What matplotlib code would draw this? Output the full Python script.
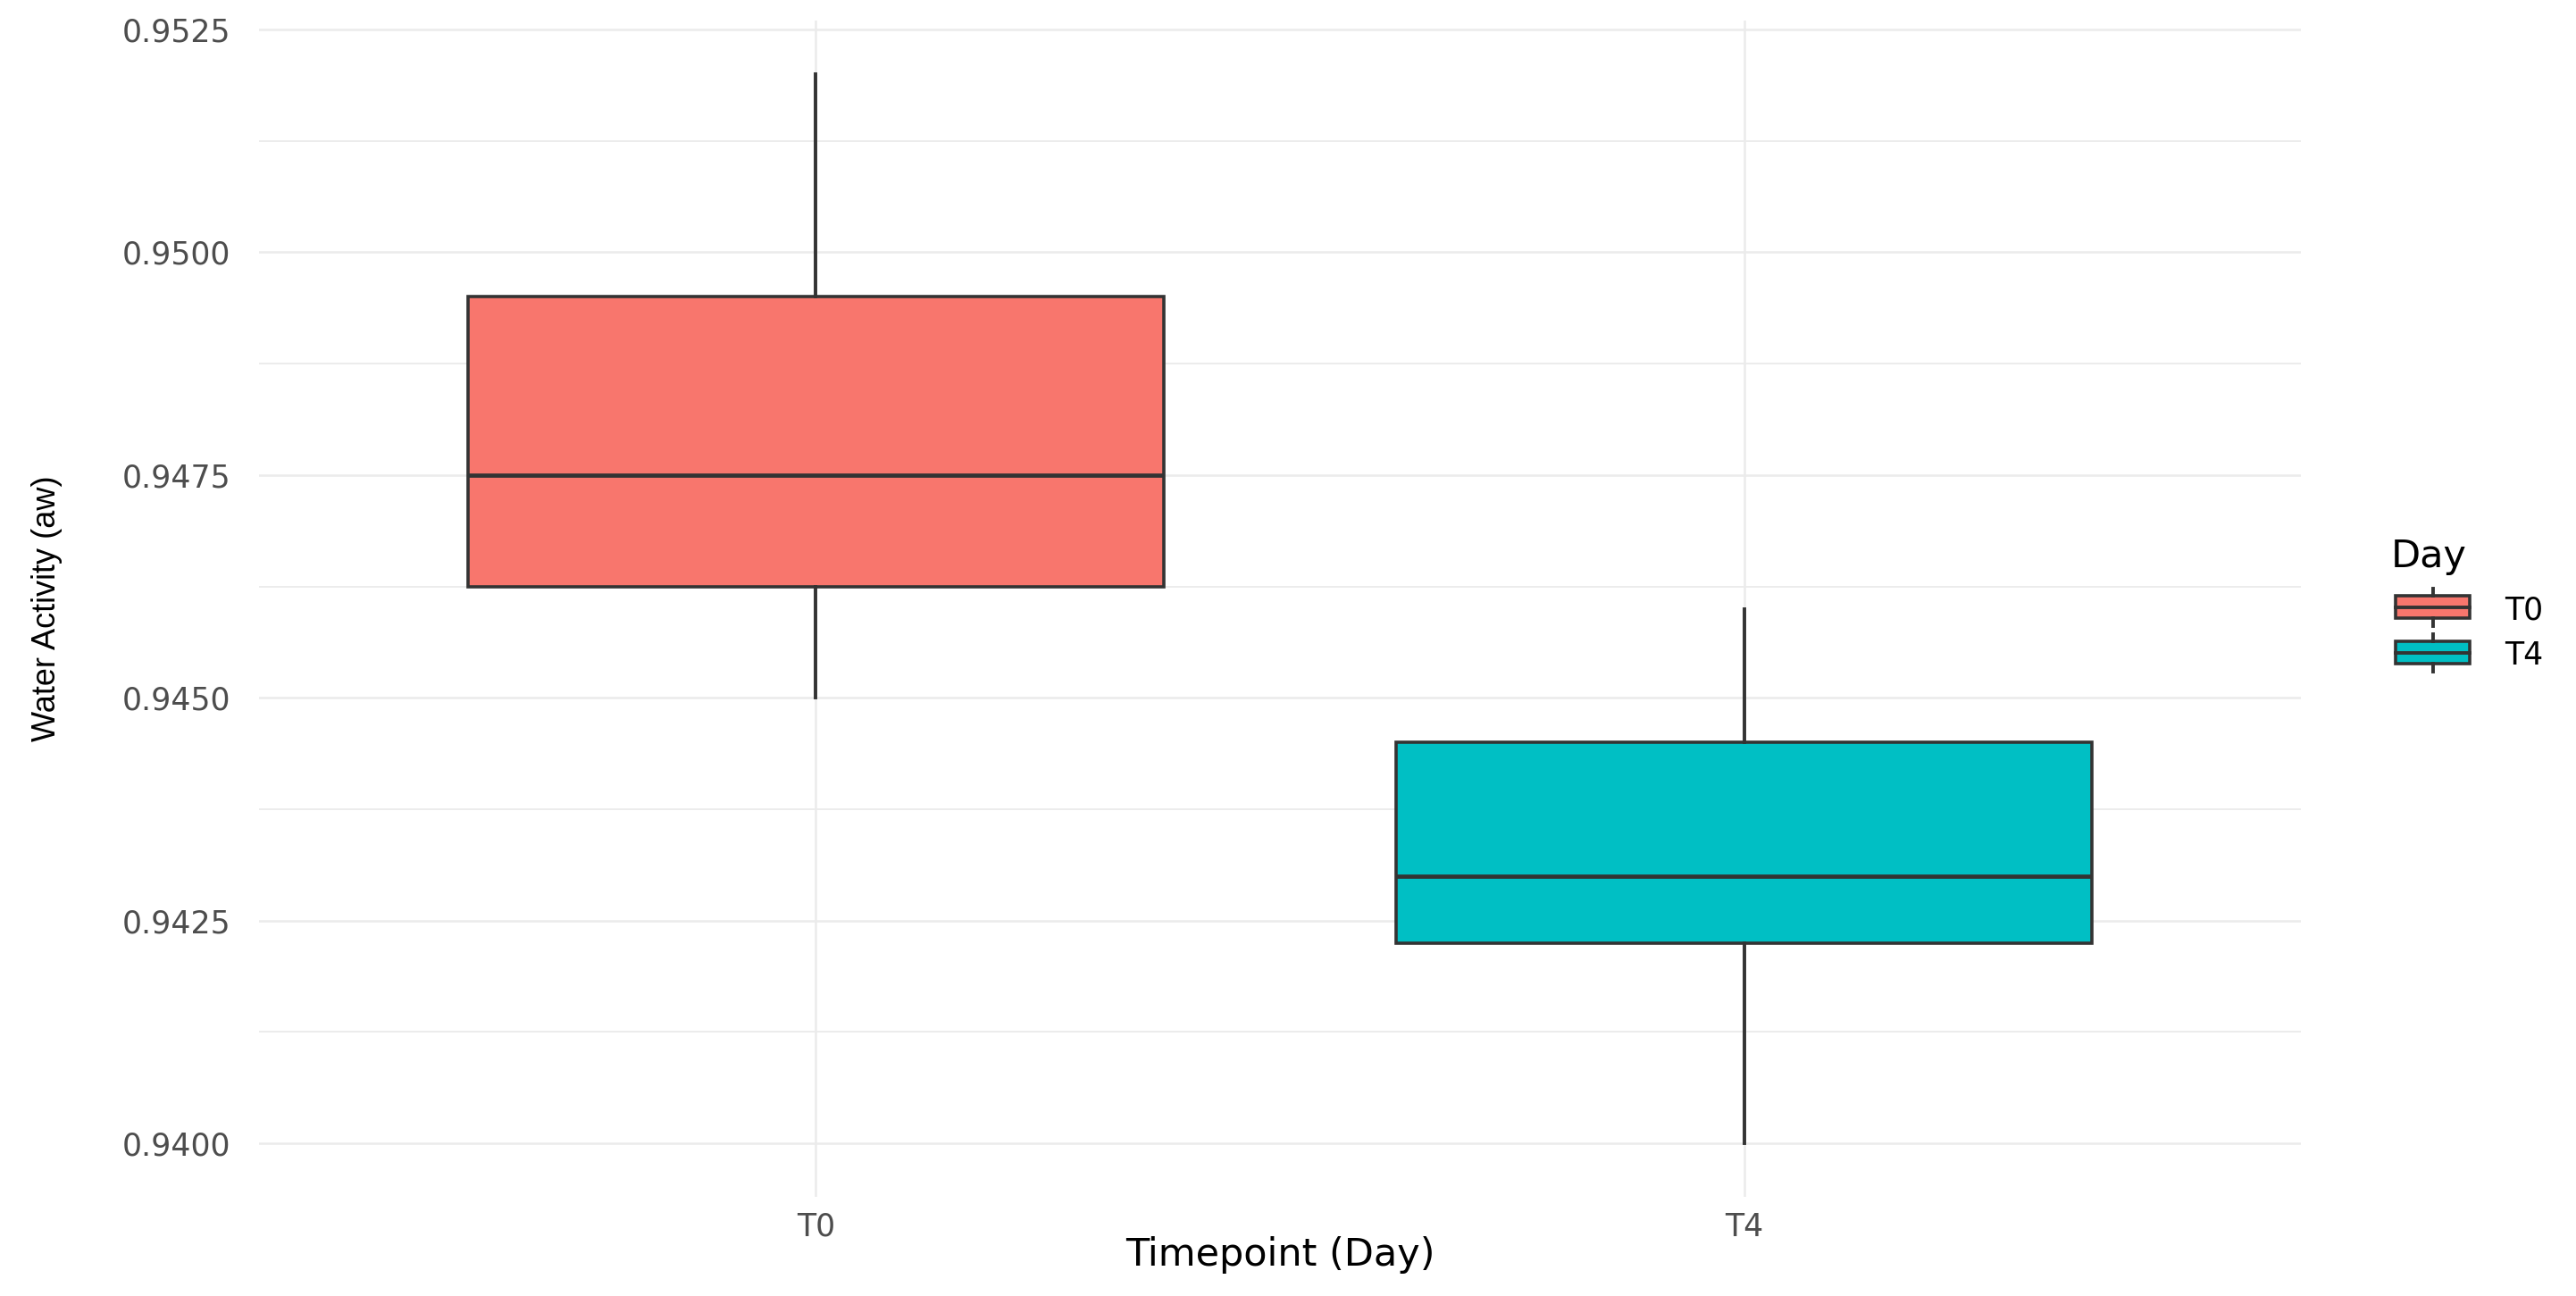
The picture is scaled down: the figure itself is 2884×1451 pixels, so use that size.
import matplotlib
matplotlib.use("Agg")
import matplotlib.pyplot as plt
from matplotlib.patches import Rectangle
from matplotlib.lines import Line2D
from matplotlib.ticker import MultipleLocator, FormatStrFormatter

# ---- data ----
days = ["T0", "T4"]
whisker_low = [0.9450, 0.9400]
q1 = [0.94625, 0.94225]
median = [0.9475, 0.9430]
q3 = [0.9495, 0.9445]
whisker_high = [0.9520, 0.9460]
y_ticks = [0.9400, 0.9425, 0.9450, 0.9475, 0.9500, 0.9525]

colors = ["#F8766D", "#00BFC4"]
edge = "#333333"
grid_c = "#EBEBEB"

W, H = 2884, 1451
fig = plt.figure(figsize=(W / 100, H / 100), dpi=100)
fig.patch.set_facecolor("white")

# panel in pixel coords
pl, pr, pt, pb = 290, 2576, 23, 1340
ax = fig.add_axes([pl / W, 1 - pb / H, (pr - pl) / W, (pb - pt) / H])

stats = []
for i, d in enumerate(days):
    stats.append(dict(label=d, whislo=whisker_low[i], q1=q1[i], med=median[i],
                      q3=q3[i], whishi=whisker_high[i], fliers=[]))

positions = list(range(1, len(days) + 1))
bp = ax.bxp(stats, positions=positions, widths=0.75, patch_artist=True,
            showfliers=False, showcaps=False,
            boxprops=dict(edgecolor=edge, linewidth=2.6),
            medianprops=dict(color=edge, linewidth=3.4, solid_capstyle="butt"),
            whiskerprops=dict(color=edge, linewidth=2.8))
for patch, c in zip(bp["boxes"], colors):
    patch.set_facecolor(c)
for art in bp["boxes"] + bp["medians"] + bp["whiskers"]:
    art.set_zorder(3)

ax.set_xlim(0.4, len(days) + 0.6)
ax.set_ylim(0.9394, 0.9526)
ax.set_xticks(positions)
ax.set_xticklabels(days)
ax.set_yticks(y_ticks)
ax.yaxis.set_major_formatter(FormatStrFormatter("%.4f"))
ax.yaxis.set_minor_locator(MultipleLocator(0.00125))

ax.set_axisbelow(True)
ax.grid(True, which="major", axis="both", color=grid_c, linewidth=1.8)
ax.grid(True, which="minor", axis="y", color=grid_c, linewidth=1.3)
for s in ax.spines.values():
    s.set_visible(False)
ax.tick_params(axis="both", which="both", length=0)
ax.tick_params(axis="y", pad=23, labelsize=25, labelcolor="#4D4D4D")
ax.tick_params(axis="x", pad=12, labelsize=25, labelcolor="#4D4D4D")
for lab in ax.get_xticklabels() + ax.get_yticklabels():
    lab.set_family("DejaVu Sans")

# axis titles
fig.text(1433 / W, 1 - 1417 / H, "Timepoint (Day)", ha="center", va="baseline",
         fontsize=31, family="DejaVu Sans", color="black")
fig.text(53 / W, 1 - 681 / H, "Water Activity (aw)", ha="center", va="center",
         rotation=90, fontsize=26, family="Liberation Sans", color="black")

# legend drawn in a pixel-coordinate overlay
lax = fig.add_axes([0, 0, 1, 1], facecolor="none")
lax.set_xlim(0, W)
lax.set_ylim(H, 0)
lax.axis("off")
lax.text(2677, 635, "Day", ha="left", va="baseline", fontsize=31,
         family="DejaVu Sans", color="black")
kx0, kx1 = 2682, 2765
for i, (d, c) in enumerate(zip(days, colors)):
    cy = 679.5 + i * 51
    lax.add_patch(Rectangle((kx0, cy - 12.5), kx1 - kx0, 25, facecolor=c,
                            edgecolor=edge, linewidth=2.6))
    xm = (kx0 + kx1) / 2
    lax.add_line(Line2D([xm, xm], [cy - 21, cy - 12.5], color=edge, linewidth=2.8))
    lax.add_line(Line2D([xm, xm], [cy + 12.5, cy + 21], color=edge, linewidth=2.8))
    lax.add_line(Line2D([kx0, kx1], [cy, cy], color=edge, linewidth=2.8))
    lax.text(2804, cy + 13.5, d, ha="left", va="baseline", fontsize=25,
             family="DejaVu Sans", color="black")

fig.savefig("out.png", dpi=100, facecolor="white")
